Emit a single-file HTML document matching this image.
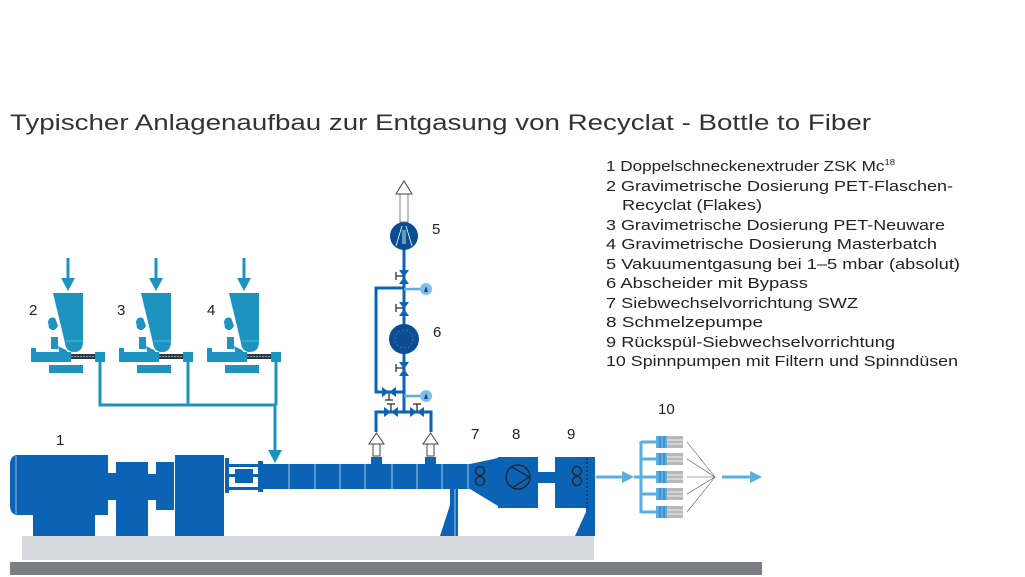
<!DOCTYPE html>
<html><head><meta charset="utf-8"><style>
html,body{margin:0;padding:0;background:#fff;width:1025px;height:577px;overflow:hidden}
svg{display:block;font-family:"Liberation Sans",sans-serif}
</style></head><body>
<svg width="1025" height="577" viewBox="0 0 1025 577" xmlns="http://www.w3.org/2000/svg">
<defs>
<g id="feeder">
  <line x1="68" y1="258" x2="68" y2="280" stroke="#1f93c0" stroke-width="3"/>
  <polygon points="61,278 75,278 68,291" fill="#1f93c0"/>
  <path d="M53,293 H83 V341 Q83,352 74,352 Q66,352 65,343 Z" fill="#1f93c0"/>
  <line x1="66" y1="341" x2="83" y2="341" stroke="#fff" stroke-width="0.6" opacity="0.6"/>
  <path d="M48,322 Q49,316 55,318 L58,326 Q54,333 49,328 Z" fill="#1f93c0"/>
  <rect x="51" y="337" width="7" height="12" fill="#1f93c0"/>
  <rect x="31" y="348" width="5" height="5" fill="#1f93c0"/>
  <rect x="31" y="352" width="40" height="10" fill="#1f93c0"/>
  <polygon points="58,346 66,350 71,356 60,356" fill="#1f93c0"/>
  <rect x="71" y="354" width="24" height="5" fill="#334"/>
  <line x1="71" y1="356.5" x2="95" y2="356.5" stroke="#7aa" stroke-width="1" stroke-dasharray="2,1"/>
  <rect x="95" y="352" width="10" height="10" fill="#1f93c0"/>
  <rect x="49" y="365" width="34" height="8" fill="#1f93c0"/>
</g>
<g id="spin">
  <line x1="641" y1="0" x2="656" y2="0" stroke="#5aaee0" stroke-width="3"/>
  <rect x="656" y="-6" width="11" height="12" fill="#5aaee0"/>
  <line x1="660" y1="-6" x2="660" y2="6" stroke="#2a70b8" stroke-width="1"/>
  <line x1="664" y1="-6" x2="664" y2="6" stroke="#2a70b8" stroke-width="1"/>
  <rect x="667" y="-6" width="16" height="12" fill="#b8b8b8"/>
  <line x1="667" y1="-2" x2="683" y2="-2" stroke="#fff" stroke-width="0.8"/>
  <line x1="667" y1="2" x2="683" y2="2" stroke="#fff" stroke-width="0.8"/>
</g>
</defs>

<text x="10" y="130" font-size="22" fill="#333" textLength="861" lengthAdjust="spacingAndGlyphs">Typischer Anlagenaufbau zur Entgasung von Recyclat - Bottle to Fiber</text>

<g font-size="14.5" fill="#222">
<text x="606" y="171" textLength="289" lengthAdjust="spacingAndGlyphs">1 Doppelschneckenextruder ZSK Mc<tspan font-size="8" dy="-6">18</tspan></text>
<text x="606" y="191" textLength="347" lengthAdjust="spacingAndGlyphs">2 Gravimetrische Dosierung PET-Flaschen-</text>
<text x="622" y="210" textLength="140" lengthAdjust="spacingAndGlyphs">Recyclat (Flakes)</text>
<text x="606" y="230" textLength="339" lengthAdjust="spacingAndGlyphs">3 Gravimetrische Dosierung PET-Neuware</text>
<text x="606" y="249" textLength="331" lengthAdjust="spacingAndGlyphs">4 Gravimetrische Dosierung Masterbatch</text>
<text x="606" y="269" textLength="354" lengthAdjust="spacingAndGlyphs">5 Vakuumentgasung bei 1–5 mbar (absolut)</text>
<text x="606" y="288" textLength="202" lengthAdjust="spacingAndGlyphs">6 Abscheider mit Bypass</text>
<text x="606" y="308" textLength="252" lengthAdjust="spacingAndGlyphs">7 Siebwechselvorrichtung SWZ</text>
<text x="606" y="327" textLength="157" lengthAdjust="spacingAndGlyphs">8 Schmelzepumpe</text>
<text x="606" y="347" textLength="289" lengthAdjust="spacingAndGlyphs">9 Rückspül-Siebwechselvorrichtung</text>
<text x="606" y="366" textLength="352" lengthAdjust="spacingAndGlyphs">10 Spinnpumpen mit Filtern und Spinndüsen</text>
</g>

<g font-size="15" fill="#222">
<text x="56" y="445">1</text>
<text x="29" y="315">2</text>
<text x="117" y="315">3</text>
<text x="207" y="315">4</text>
<text x="432" y="234">5</text>
<text x="433" y="337">6</text>
<text x="471" y="439">7</text>
<text x="512" y="439">8</text>
<text x="567" y="439">9</text>
<text x="658" y="414">10</text>
</g>

<rect x="22" y="536" width="572" height="24" fill="#d5d8dc"/>
<rect x="10" y="562" width="752" height="13" fill="#7b7e82"/>

<use href="#feeder"/>
<use href="#feeder" x="88"/>
<use href="#feeder" x="176"/>
<path d="M100,362 V405 H275 V452 M188,362 V405 M276,362 V405" fill="none" stroke="#1f93c0" stroke-width="3"/>
<polygon points="268,450 282,450 275,463" fill="#1f93c0"/>

<g fill="#0b63b6">
<path d="M18,455 H108 V515 H18 Q10,515 10,505 V465 Q10,455 18,455 Z"/>
<rect x="33" y="515" width="62" height="21"/>
<rect x="108" y="473" width="9" height="27"/>
<rect x="116" y="462" width="32" height="74"/>
<rect x="148" y="474" width="9" height="26"/>
<rect x="156" y="462" width="18" height="48"/>
<rect x="175" y="455" width="49" height="81"/>
<rect x="225" y="458" width="4" height="35"/>
<rect x="258" y="461" width="5" height="31"/>
<rect x="229" y="464" width="29" height="3"/>
<rect x="229" y="487" width="29" height="3"/>
<rect x="229" y="474" width="29" height="3"/>
<rect x="235" y="469" width="18" height="14"/>
<rect x="263" y="464" width="235" height="25"/>
<polygon points="470,464 498,458 498,506 470,489"/>
<rect x="498" y="457" width="40" height="51"/>
<rect x="538" y="472" width="17" height="11"/>
<rect x="555" y="457" width="40" height="51"/>
<rect x="450" y="489" width="8" height="47"/>
<polygon points="440,536 450,505 450,536"/>
<rect x="586" y="508" width="9" height="28"/>
<polygon points="575,536 586,512 586,536"/>
</g>
<line x1="16" y1="456" x2="16" y2="514" stroke="#fff" stroke-width="0.8" opacity="0.7"/>
<g stroke="#fff" stroke-width="0.8" opacity="0.8">
<line x1="289" y1="464" x2="289" y2="489"/><line x1="315" y1="464" x2="315" y2="489"/>
<line x1="340" y1="464" x2="340" y2="489"/><line x1="365" y1="464" x2="365" y2="489"/>
<line x1="392" y1="464" x2="392" y2="489"/><line x1="417" y1="464" x2="417" y2="489"/>
<line x1="442" y1="464" x2="442" y2="489"/><line x1="468" y1="464" x2="468" y2="489"/>
<line x1="455" y1="489" x2="455" y2="536"/>
</g>
<g fill="none" stroke="#222" stroke-width="1.3">
<circle cx="480" cy="471" r="4.5"/><circle cx="480" cy="481" r="4.5"/>
<circle cx="577" cy="471" r="4.5"/><circle cx="577" cy="481" r="4.5"/>
<circle cx="518" cy="477" r="12"/>
<path d="M512,467 L529,477 L512,488"/>
</g>
<line x1="587" y1="458" x2="587" y2="508" stroke="#123" stroke-width="1" stroke-dasharray="2,2"/>

<g stroke="#0b63b6" stroke-width="3" fill="none">
<line x1="404" y1="240" x2="404" y2="412"/>
<path d="M404,288 H376 V392 H404"/>
<path d="M376,432 V412 H431 V432"/>
</g>
<g stroke="#5aaee0" stroke-width="2.5"><line x1="404" y1="289" x2="424" y2="289"/><line x1="404" y1="396" x2="424" y2="396"/></g>
<circle cx="426" cy="289" r="6" fill="#7fc0ea"/><circle cx="426" cy="396" r="6" fill="#7fc0ea"/>
<g fill="#0b4c93"><polygon points="424,292 426,286 428,292"/><polygon points="424,399 426,393 428,399"/></g>
<g fill="#0b63b6">
<polygon points="399,270 409,270 404,277"/><polygon points="399,284 409,284 404,277"/>
<polygon points="399,302 409,302 404,309"/><polygon points="399,316 409,316 404,309"/>
<polygon points="399,362 409,362 404,369"/><polygon points="399,376 409,376 404,369"/>
<polygon points="382,387 382,397 389,392"/><polygon points="396,387 396,397 389,392"/>
<polygon points="384,407 384,417 391,412"/><polygon points="398,407 398,417 391,412"/>
<polygon points="410,407 410,417 417,412"/><polygon points="424,407 424,417 417,412"/>
</g>
<g stroke="#222" stroke-width="1.2">
<line x1="396" y1="272" x2="396" y2="280"/><line x1="396" y1="276" x2="403" y2="276"/>
<line x1="396" y1="304" x2="396" y2="312"/><line x1="396" y1="308" x2="403" y2="308"/>
<line x1="396" y1="364" x2="396" y2="372"/><line x1="396" y1="368" x2="403" y2="368"/>
<line x1="385" y1="400" x2="393" y2="400"/><line x1="389" y1="393" x2="389" y2="400"/>
<line x1="387" y1="404" x2="395" y2="404"/><line x1="391" y1="404" x2="391" y2="411"/>
<line x1="413" y1="404" x2="421" y2="404"/><line x1="417" y1="404" x2="417" y2="411"/>
</g>
<circle cx="404" cy="236" r="14" fill="#0b4c93"/>
<path d="M396,246 L402,226 M412,246 L406,226 M403,244 V230 M405,244 V230" stroke="#cfe" stroke-width="0.9" fill="none"/>
<circle cx="404" cy="339" r="15" fill="#0b4c93"/>
<circle cx="404" cy="339" r="9" fill="none" stroke="#3a7acc" stroke-width="0.8" stroke-dasharray="2,2"/>
<rect x="400" y="194" width="8" height="28" fill="#fff" stroke="#666" stroke-width="0.8"/>
<polygon points="396,194 404,181 412,194" fill="#fff" stroke="#444" stroke-width="1"/>
<g fill="#fff" stroke="#444" stroke-width="1">
<rect x="373" y="444" width="7" height="12"/><polygon points="369,444 376.5,433 384,444"/>
<rect x="427" y="444" width="7" height="12"/><polygon points="423,444 430.5,433 438,444"/>
</g>
<rect x="371" y="457" width="11" height="7" fill="#0b63b6"/>
<rect x="425" y="457" width="11" height="7" fill="#0b63b6"/>

<line x1="596" y1="477" x2="624" y2="477" stroke="#5aaee0" stroke-width="3"/>
<polygon points="622,471 634,477 622,483" fill="#5aaee0"/>
<line x1="641" y1="441" x2="641" y2="513" stroke="#5aaee0" stroke-width="3"/>
<line x1="634" y1="477" x2="641" y2="477" stroke="#5aaee0" stroke-width="3"/>
<use href="#spin" y="442"/><use href="#spin" y="459"/><use href="#spin" y="477"/>
<use href="#spin" y="494"/><use href="#spin" y="512"/>
<g stroke="#555" stroke-width="0.6">
<line x1="687" y1="442" x2="715" y2="477"/><line x1="687" y1="459" x2="715" y2="477"/>
<line x1="687" y1="477" x2="715" y2="477"/><line x1="687" y1="494" x2="715" y2="477"/>
<line x1="687" y1="512" x2="715" y2="477"/>
</g>
<line x1="722" y1="477" x2="752" y2="477" stroke="#5aaee0" stroke-width="3"/>
<polygon points="750,471 762,477 750,483" fill="#5aaee0"/>
</svg>
</body></html>
